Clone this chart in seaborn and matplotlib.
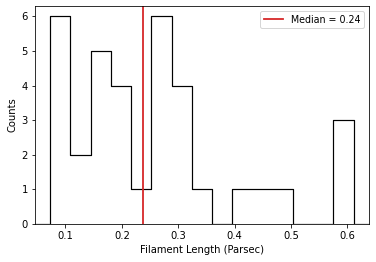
import matplotlib
matplotlib.use("Agg")
import matplotlib.pyplot as plt
import numpy as np
import pandas as pd
import seaborn as sns

# histogram: 15 equal bins (plus an empty bin each side
# so the outline drops back to zero like a matplotlib step histogram)
bin_width = (0.611 - 0.073) / 15
bin_edges = np.linspace(0.073 - bin_width, 0.611 + bin_width, 18)
bin_counts = [0, 6, 2, 5, 4, 1, 6, 4, 1, 0, 1, 1, 1, 0, 0, 3, 0]
median_length = 0.238

df = pd.DataFrame({
    "length": (bin_edges[:-1] + bin_edges[1:]) / 2,
    "count": bin_counts,
})

plt.rcParams["font.family"] = ["DejaVu Sans"]
plt.rcParams["font.size"] = 10

fig, ax = plt.subplots(figsize=(376 / 72, 262 / 72), dpi=72)
fig.subplots_adjust(left=0.093, right=0.981, bottom=0.145, top=0.977)

sns.histplot(data=df, x="length", weights="count", bins=list(bin_edges),
             element="step", fill=False, color="black", linewidth=1.2, ax=ax)
ax.axvline(median_length, color="tab:red", linewidth=1.8,
           label=f"Median = {median_length:.2f}")

ax.set_xlabel("Filament Length (Parsec)")
ax.set_ylabel("Counts")
ax.set_xticks([0.1, 0.2, 0.3, 0.4, 0.5, 0.6])
ax.set_xlim(0.046, 0.638)
ax.set_ylim(0, 6.3)
ax.legend(loc="upper right", fontsize=9.5)

plt.savefig("out.png", dpi=72)
